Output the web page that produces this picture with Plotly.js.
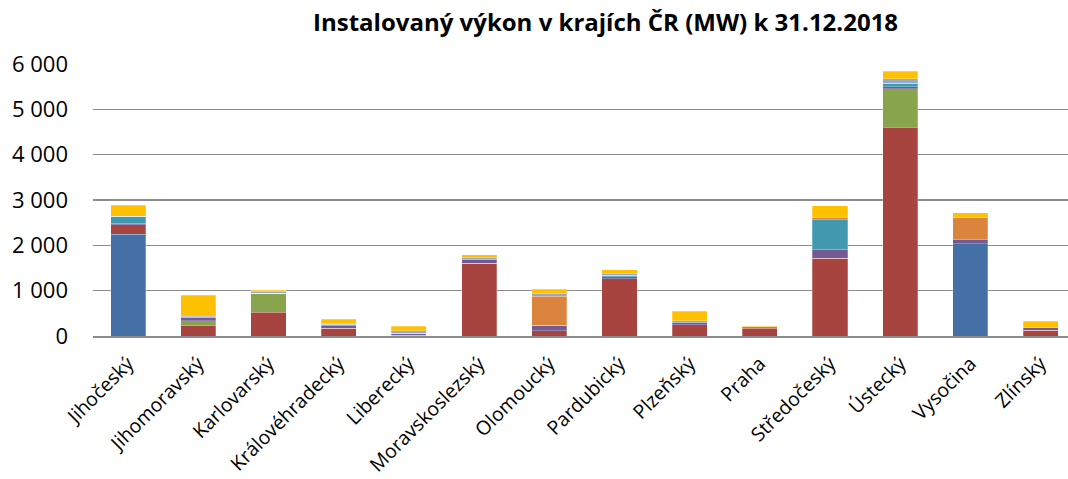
<!DOCTYPE html>
<html>
<head>
<meta charset="utf-8">
<script src="https://cdn.plot.ly/plotly-3.0.1.min.js"></script>
<style>
html,body{margin:0;padding:0;background:#fff;}
#chart{width:1068px;height:479px;}
</style>
</head>
<body>
<div id="chart"></div>
<script>
const categories = ["Jihočeský","Jihomoravský","Karlovarský","Královéhradecký","Liberecký","Moravskoslezský","Olomoucký","Pardubický","Plzeňský","Praha","Středočeský","Ústecký","Vysočina","Zlínský"];

const seriesNames = ["Jaderné","Parní","Paroplynové","Plynové a spalovací","Vodní","Přečerpávací","Větrné","Fotovoltaické"];

const jaderne       = [2243, 0, 0, 0, 0, 0, 0, 0, 0, 0, 0, 0, 2030, 0];
const parni         = [212, 221, 525, 175, 15, 1604, 115, 1260, 243, 170, 1714, 4604, 0, 126];
const paroplynove   = [0, 117, 420, 0, 0, 0, 0, 0, 0, 10, 0, 845, 0, 0];
const plynove       = [30, 66, 0, 66, 45, 73, 117, 50, 51, 20, 199, 51, 88, 57];
const vodni         = [161, 0, 0, 20, 0, 0, 0, 30, 0, 0, 647, 75, 0, 0];
const precerpavaci  = [0, 0, 0, 0, 0, 0, 649, 0, 0, 0, 51, 0, 492, 0];
const vetrne        = [0, 37, 40, 20, 60, 44, 51, 45, 37, 0, 0, 95, 10, 0];
const fotovoltaicke = [236, 457, 20, 88, 95, 66, 104, 77, 214, 10, 258, 170, 97, 141];

const seriesValues = [jaderne, parni, paroplynove, plynove, vodni, precerpavaci, vetrne, fotovoltaicke];
const colors = ["#4470A5","#A8443F","#88A44C","#735A93","#4198AF","#DB843D","#93A9D0","#FFC000"];

const traces = seriesValues.map((vals, i) => ({
  type: "bar",
  name: seriesNames[i],
  x: categories,
  y: vals,
  marker: {color: colors[i], line: {color: "rgba(255,255,255,0.5)", width: 0.5}},
  hoverinfo: "x+y+name"
}));

const layout = {
  width: 1068,
  height: 479,
  barmode: "stack",
  bargap: 0.5,
  showlegend: false,
  separators: ", ",
  paper_bgcolor: "#ffffff",
  plot_bgcolor: "#ffffff",
  margin: {l: 93, r: 0, t: 64, b: 143},
  title: {
    text: "<b>Instalovaný výkon v krajích ČR (MW) k 31.12.2018</b>",
    font: {family: "Open Sans, sans-serif", size: 24, color: "#000"},
    x: 0.567, xanchor: "center",
    y: 0.953, yanchor: "middle"
  },
  xaxis: {
    type: "category",
    range: [-0.5, 13.39],
    tickangle: -45,
    tickfont: {family: "Open Sans, sans-serif", size: 19.5, color: "#000"},
    showgrid: false,
    showline: true,
    linecolor: "#8c8c8c",
    linewidth: 1.5,
    ticks: "",
    ticklabelstandoff: 7,
    fixedrange: true
  },
  yaxis: {
    range: [0, 6000],
    dtick: 1000,
    tickformat: ",d",
    tickfont: {family: "Open Sans, sans-serif", size: 22, color: "#000"},
    showgrid: true,
    gridcolor: "#8c8c8c",
    gridwidth: 1.5,
    zeroline: false,
    showline: false,
    ticks: "",
    ticklabelstandoff: 24,
    fixedrange: true
  }
};

Plotly.newPlot("chart", traces, layout, {displayModeBar: false, staticPlot: true});
</script>
</body>
</html>
